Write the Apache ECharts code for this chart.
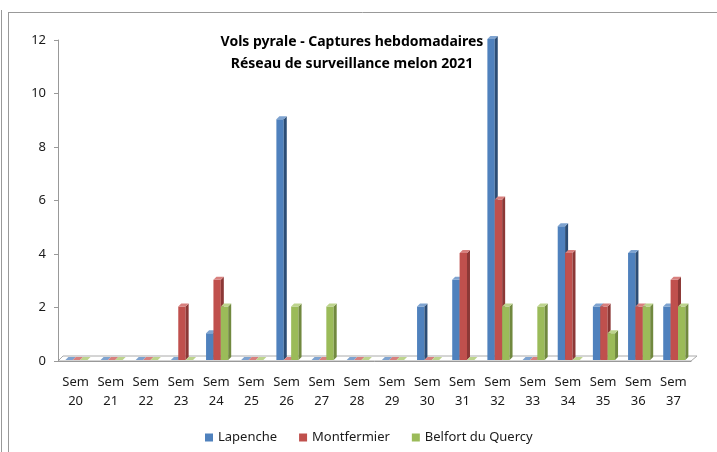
<!DOCTYPE html>
<html>
<head>
<meta charset="utf-8">
<script src="https://cdn.jsdelivr.net/npm/echarts@6/dist/echarts.min.js"></script>
<style>
    html, body { margin: 0; padding: 0; background: #fff; }
    #chart { width: 717px; height: 452px; }
</style>
</head>
<body>
<div id="chart"></div>
<script>
// semaines de piegeage
var weeks = [20, 21, 22, 23, 24, 25, 26, 27, 28, 29, 30, 31, 32, 33, 34, 35, 36, 37];
var lapenche = [0, 0, 0, 0, 1, 0, 9, 0, 0, 0, 2, 3, 12, 0, 5, 2, 4, 2];
var montfermier = [0, 0, 0, 2, 3, 0, 0, 0, 0, 0, 0, 4, 6, 0, 4, 2, 2, 3];
var belfort = [0, 0, 0, 0, 2, 0, 2, 2, 0, 0, 0, 0, 2, 2, 0, 1, 2, 2];
var yTicks = [0, 2, 4, 6, 8, 10, 12];

var categories = [];
for (var i = 0; i < weeks.length; i++) {
    categories.push("Sem\n" + weeks[i]);
}

var font = "'Noto Sans', sans-serif";

// barre "3D" facon Excel : face, cote, dessus
function makeRender(idx, face, side, topc) {
    return function (params, api) {
        var ci = api.value(0), v = api.value(1);
        var p0 = api.coord([ci, 0]);
        var p1 = api.coord([ci, v]);
        var cw = api.size([1, 0])[0];
        var bw = cw * 0.21;
        var d = 3;
        var x = p0[0] - cw * 0.29 + idx * bw;
        var yb = p0[1] - 1, yt = p1[1] - 1;
        return {
            type: 'group',
            children: [
                {type: 'rect', shape: {x: x, y: yt, width: bw, height: yb - yt}, style: {fill: face}},
                {type: 'polygon', shape: {points: [[x + bw, yt], [x + bw + d, yt - d], [x + bw + d, yb - d], [x + bw, yb]]}, style: {fill: side}},
                {type: 'polygon', shape: {points: [[x, yt], [x + d, yt - d], [x + bw + d, yt - d], [x + bw, yt]]}, style: {fill: topc}}
            ]
        };
    };
}

function toData(arr) {
    var out = [];
    for (var i = 0; i < arr.length; i++) out.push([i, arr[i]]);
    return out;
}

var chart = echarts.init(document.getElementById("chart"));
var option = {
    animation: false,
    backgroundColor: '#fff',
    title: {
        text: 'Vols pyrale - Captures hebdomadaires\nRéseau de surveillance melon 2021',
        left: 352,
        top: 31,
        padding: 0,
        textAlign: 'center',
        textStyle: {fontFamily: font, fontSize: 14, fontWeight: 'bold', color: '#000', lineHeight: 22}
    },
    legend: {
        bottom: 3,
        left: 200,
        itemWidth: 8,
        itemHeight: 8,
        itemGap: 22,
        icon: 'rect',
        textStyle: {fontFamily: font, fontSize: 13, color: '#1a1a1a'},
        data: ['Lapenche', 'Montfermier', 'Belfort du Quercy']
    },
    grid: {left: 58, right: 26, top: 40, bottom: 91},
    xAxis: {
        type: 'category',
        data: categories,
        axisLine: {lineStyle: {color: '#999'}},
        axisTick: {length: 6, lineStyle: {color: '#999'}},
        axisLabel: {fontFamily: font, fontSize: 13, color: '#1a1a1a', margin: 12, lineHeight: 19, interval: 0}
    },
    yAxis: {
        type: 'value',
        min: yTicks[0],
        max: yTicks[yTicks.length - 1],
        interval: 2,
        axisLine: {show: true, lineStyle: {color: '#999'}},
        axisTick: {show: true, length: 4, lineStyle: {color: '#999'}},
        splitLine: {show: false},
        axisLabel: {fontFamily: font, fontSize: 13, color: '#1a1a1a', margin: 12}
    },
    graphic: [
        {type: 'line', shape: {x1: 1.5, y1: 10, x2: 1.5, y2: 452}, style: {stroke: '#999', lineWidth: 1}},
        {type: 'line', shape: {x1: 8.5, y1: 12, x2: 8.5, y2: 452}, style: {stroke: '#999', lineWidth: 1}},
        {type: 'line', shape: {x1: 8, y1: 12.5, x2: 717, y2: 12.5}, style: {stroke: '#999', lineWidth: 1}},
        {type: 'polygon', z: 0, shape: {points: [[58, 361], [691, 361], [697, 356], [63, 356]]}, style: {fill: '#fff', stroke: '#aaa', lineWidth: 1}}
    ],
    series: [
        {name: 'Lapenche', type: 'custom', z: 3, itemStyle: {color: '#4F81BD'}, renderItem: makeRender(0, '#4F81BD', '#2C4D75', '#7EA3D0'), data: toData(lapenche)},
        {name: 'Montfermier', type: 'custom', z: 3, itemStyle: {color: '#C0504D'}, renderItem: makeRender(1, '#C0504D', '#8C3836', '#D8807E'), data: toData(montfermier)},
        {name: 'Belfort du Quercy', type: 'custom', z: 3, itemStyle: {color: '#9BBB59'}, renderItem: makeRender(2, '#9BBB59', '#71893F', '#BDD48D'), data: toData(belfort)}
    ]
};
chart.setOption(option);
</script>
</body>
</html>
